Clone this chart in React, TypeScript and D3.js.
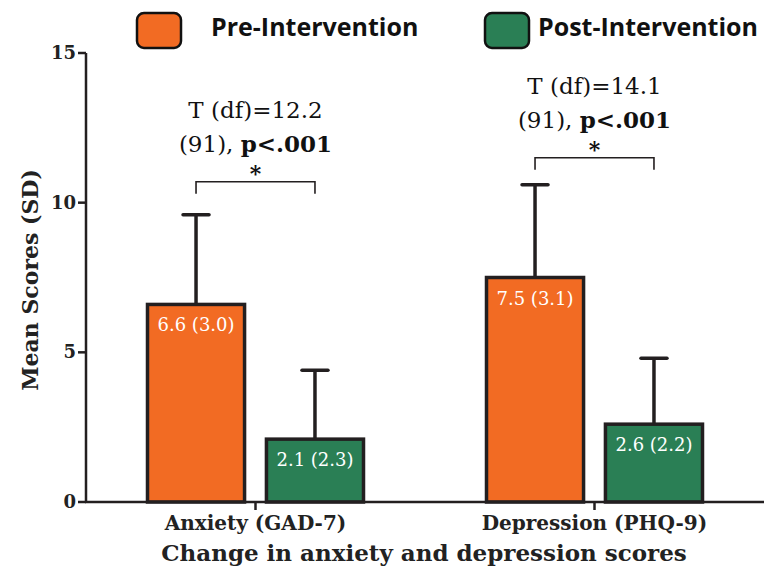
import React from "react";
import * as d3 from "d3";

const groups = ["Anxiety (GAD-7)", "Depression (PHQ-9)"];
const series = ["Pre-Intervention", "Post-Intervention"];
const preMeans = [6.6, 7.5];
const preSD = [3.0, 3.1];
const postMeans = [2.1, 2.6];
const postSD = [2.3, 2.2];
const tLines1 = ["T (df)=12.2", "T (df)=14.1"];
const bracketLevels = [10.7, 11.5];
const yTicks = [0, 5, 10, 15];
const colors = ["#F26B23", "#2A7F55"];

const W = 768, H = 573;
const axisX = 86, axisY = 502, axisRight = 764, yTop = 53;

export default function App() {
  const y = d3.scaleLinear().domain([0, 15]).range([axisY, yTop]);
  const x = d3.scalePoint<string>().domain(groups).range([axisX, axisRight]).padding(0.5);
  const inner = d3.scaleBand<string>().domain(series).range([-108, 108]).paddingInner(0.184).paddingOuter(0);
  const bw = inner.bandwidth();
  const means = [preMeans, postMeans];
  const sds = [preSD, postSD];
  const dark = "#231F20";
  const serif = "'DejaVu Serif', serif";

  return (
    <svg width={W} height={H} style={{ position: "absolute", left: 0, top: 0, background: "#fff" }}>
      {/* legend */}
      {series.map((s, i) => {
        const bx = i === 0 ? 137 : 485;
        const tx = i === 0 ? 211 : 538;
        return (
          <g key={s}>
            <rect x={bx} y={13} width={44} height={35} rx={7} fill={colors[i]} stroke="#111" strokeWidth={2.5} />
            <text x={tx} y={36} fontFamily="'Open Sans', sans-serif" fontWeight={700} fontSize={25} fill="#111">{s}</text>
          </g>
        );
      })}

      {/* bars */}
      {groups.map((g, gi) => (
        <g key={g} transform={`translate(${x(g)},0)`}>
          {series.map((s, si) => {
            const m = means[si][gi];
            const sd = sds[si][gi];
            const bx = inner(s)!;
            const cx = bx + bw / 2;
            return (
              <g key={s}>
                <line x1={cx} x2={cx} y1={y(m)} y2={y(m + sd)} stroke={dark} strokeWidth={3.5} />
                <line x1={cx - 13} x2={cx + 13} y1={y(m + sd)} y2={y(m + sd)} stroke={dark} strokeWidth={3.5} strokeLinecap="round" />
                <rect x={bx} y={y(m)} width={bw} height={axisY - y(m)} fill={colors[si]} stroke={dark} strokeWidth={3.5} />
                <text x={cx} y={y(m) + 27} textAnchor="middle" fontFamily={serif} fontSize={18} fill="#fff">
                  {`${m.toFixed(1)} (${sd.toFixed(1)})`}
                </text>
              </g>
            );
          })}
          {/* bracket */}
          {(() => {
            const x1 = inner(series[0])! + bw / 2;
            const x2 = inner(series[1])! + bw / 2;
            const by = y(bracketLevels[gi]);
            return (
              <g>
                <path d={`M${x1},${by + 12}V${by}H${x2}V${by + 12}`} fill="none" stroke={dark} strokeWidth={1.6} />
                <text x={(x1 + x2) / 2} y={by - 1} textAnchor="middle" fontFamily={serif} fontWeight={700} fontSize={22} fill="#111">*</text>
                <text x={(x1 + x2) / 2} y={by - 64} textAnchor="middle" fontFamily={serif} fontSize={23} fill="#111">{tLines1[gi]}</text>
                <text x={(x1 + x2) / 2} y={by - 30} textAnchor="middle" fontFamily={serif} fontSize={23} fill="#111">
                  (91), <tspan fontWeight={700}>p&lt;.001</tspan>
                </text>
              </g>
            );
          })()}
        </g>
      ))}

      {/* axes */}
      <line x1={axisX} x2={axisX} y1={yTop} y2={axisY} stroke={dark} strokeWidth={2.5} />
      <line x1={axisX - 1} x2={axisRight} y1={axisY} y2={axisY} stroke={dark} strokeWidth={2.5} />
      {yTicks.map((t) => (
        <g key={t}>
          <line x1={axisX - 8} x2={axisX} y1={y(t)} y2={y(t)} stroke={dark} strokeWidth={2.5} />
          <text x={axisX - 10} y={y(t) + 6} textAnchor="end" fontFamily={serif} fontWeight={700} fontSize={18} fill="#222">{t}</text>
        </g>
      ))}
      {groups.map((g) => (
        <g key={g}>
          <line x1={x(g)} x2={x(g)} y1={axisY} y2={axisY + 8} stroke={dark} strokeWidth={2.5} />
          <text x={x(g)} y={530} textAnchor="middle" fontFamily={serif} fontWeight={700} fontSize={20} fill="#222">{g}</text>
        </g>
      ))}
      <text x={424} y={561} textAnchor="middle" fontFamily={serif} fontWeight={700} fontSize={23} fill="#222">Change in anxiety and depression scores</text>
      <text transform={`translate(38,280) rotate(-90)`} textAnchor="middle" fontFamily={serif} fontWeight={700} fontSize={22} fill="#222">Mean Scores (SD)</text>
    </svg>
  );
}
